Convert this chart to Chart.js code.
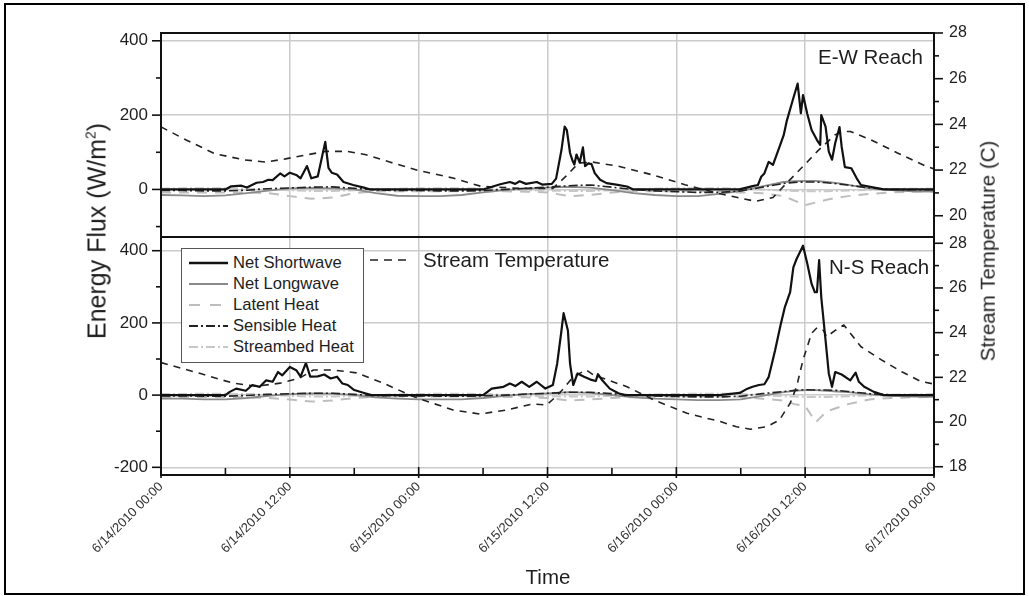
<!DOCTYPE html>
<html><head><meta charset="utf-8">
<script src="https://cdn.jsdelivr.net/npm/chart.js@4.4.1/dist/chart.umd.min.js"></script>
<style>
html,body{margin:0;padding:0;background:#fff;}
#wrap{position:relative;width:1029px;height:596px;overflow:hidden;font-family:"Liberation Sans",Arial,sans-serif;color:#1e1e1e;}
#frame{position:absolute;left:4px;top:3px;width:1021px;height:592px;border:2px solid #000;box-sizing:border-box;}
canvas{position:absolute;left:0;top:0;}
.t{position:absolute;white-space:nowrap;line-height:1;}
.rot{transform:translate(-50%,-50%) rotate(-90deg);}
.ctr{transform:translate(-50%,-50%);}
svg{position:absolute;left:0;top:0;}
</style></head>
<body><div id="wrap">
<div id="frame"></div>
<canvas id="cTop" width="1029" height="596"></canvas>
<canvas id="cBot" width="1029" height="596"></canvas>
<svg width="1029" height="596">
  <rect x="181.5" y="248.5" width="182" height="114" fill="#fff" stroke="#555" stroke-width="1"/>
  <line x1="189" y1="263" x2="228" y2="263" stroke="#111" stroke-width="2.5"/>
  <line x1="189" y1="284" x2="228" y2="284" stroke="#8a8a8a" stroke-width="1.8"/>
  <line x1="189" y1="305" x2="228" y2="305" stroke="#bdbdbd" stroke-width="2" stroke-dasharray="11,10"/>
  <line x1="189" y1="326" x2="228" y2="326" stroke="#222" stroke-width="1.8" stroke-dasharray="9,3,2,3"/>
  <line x1="189" y1="347" x2="228" y2="347" stroke="#c8c8c8" stroke-width="2" stroke-dasharray="9,3,2,3"/>
  <line x1="370" y1="260" x2="410" y2="260" stroke="#222" stroke-width="1.6" stroke-dasharray="8,6"/>
</svg>
<div class="t" style="left:233px;top:255px;font-size:16.6px">Net Shortwave</div>
<div class="t" style="left:233px;top:276px;font-size:16.6px">Net Longwave</div>
<div class="t" style="left:233px;top:297px;font-size:16.6px">Latent Heat</div>
<div class="t" style="left:233px;top:318px;font-size:16.6px">Sensible Heat</div>
<div class="t" style="left:233px;top:339px;font-size:16.6px">Streambed Heat</div>
<div class="t" style="left:423px;top:250px;font-size:20.5px">Stream Temperature</div>
<div class="t" style="left:818px;top:46.5px;font-size:20.5px">E-W Reach</div>
<div class="t" style="left:829px;top:256.5px;font-size:20.5px">N-S Reach</div>
<div class="t rot" style="left:97px;top:231px;font-size:25px">Energy Flux (W/m<sup style="font-size:14px;vertical-align:10px;line-height:0">2</sup>)</div>
<div class="t rot" style="left:988px;top:251px;font-size:20.5px">Stream Temperature (C)</div>
<div class="t ctr" style="left:548px;top:577px;font-size:20.5px">Time</div>
</div>
<script>
// ---------- axis ticks ----------
const xTickHours = [0, 12, 24, 36, 48, 60, 72];
const xTickLabels = ["6/14/2010 00:00", "6/14/2010 12:00", "6/15/2010 00:00", "6/15/2010 12:00", "6/16/2010 00:00", "6/16/2010 12:00", "6/17/2010 00:00"];
const xMinorHours = [6, 18, 30, 42, 54, 66];
const ewFluxTicks = [400, 200, 0];
const ewFluxMinor = [300, 100, -100];
const ewTempTicks = [20, 22, 24, 26, 28];
const ewTempMinor = [21, 23, 25, 27];
const nsFluxTicks = [400, 200, 0, -200];
const nsFluxMinor = [300, 100, -100];
const nsTempTicks = [18, 20, 22, 24, 26, 28];
const nsTempMinor = [19, 21, 23, 25, 27];

// ---------- E-W reach ----------
const ewSwHours = [0,6,6.5,7.5,8,8.9,9.5,10,10.4,11.1,11.5,12,12.6,13,13.6,14,14.6,15.3,15.6,15.9,16.4,17,17.9,18.9,19.5,
  30,31.6,32.5,33,33.4,34,35,35.5,36.4,36.8,37.3,37.6,37.8,38.1,38.3,38.5,38.7,39,39.3,39.5,39.8,40.1,40.4,40.9,41.5,42.4,43.4,44,
  53.9,55.1,55.6,55.9,56.2,56.6,57,57.5,58,58.3,58.8,59.3,59.6,59.8,60.2,60.6,61.1,61.4,61.5,61.9,62.2,62.5,62.8,63.2,63.4,63.7,64.3,64.8,65.2,66.3,67.3,72];
const ewSwValues = [0,0,8,10,5,18,20,26,25,43,35,45,39,30,63,30,35,128,58,45,40,20,12,5,0,
  0,14,20,15,22,15,20,13,15,29,106,169,160,98,80,67,94,72,113,63,70,68,44,26,17,13,8,0,
  0,9,12,34,43,74,66,106,146,186,236,285,205,254,203,160,133,120,200,169,102,80,125,168,115,60,57,30,12,6,0,0];
const ewTempHours = [0,2.3,5,7.7,9.8,11.6,13.6,15.4,17.3,19.1,21.3,24,27.2,29.8,33.4,36.5,37.7,38.9,40.2,42.6,45.7,48.8,51.9,53.7,55.4,57,58.3,59.8,61.2,62.8,63.6,64.2,66.1,68.6,71.3,72];
const ewTempValues = [23.89,23.33,22.72,22.45,22.35,22.49,22.67,22.82,22.82,22.67,22.35,21.98,21.65,21.29,21.2,21.2,21.72,22.31,22.35,22.17,21.8,21.36,20.98,20.8,20.63,20.8,21.44,22.16,22.85,23.55,23.69,23.69,23.33,22.75,22.16,22.05];

const fluxHours = [0,2,4,6,8,10,12,14,16,18,20,22,24,26,28,30,32,34,36,38,40,42,44,46,48,50,52,54,56,58,59,60,61,62,63,64,66,68,70,72];
const ewLongwave = [-15,-16,-18,-16,-10,-3,3,4,3,0,-10,-17,-18,-18,-15,-8,-2,2,5,7,5,-2,-10,-15,-18,-18,-12,-4,8,20,22,23,23,20,17,12,3,-2,-5,-6];
const ewLatent = [-8,-8,-8,-8,-8,-10,-18,-25,-22,-10,-5,-5,-5,-5,-5,-5,-5,-6,-8,-18,-15,-8,-5,-5,-5,-5,-5,-8,-10,-18,-30,-42,-35,-28,-22,-18,-12,-8,-6,-5];
const ewSensible = [-3,-3,-4,-4,-2,2,4,6,7,3,-1,-3,-3,-4,-4,-3,0,3,6,10,12,6,0,-4,-6,-8,-8,-4,6,16,19,20,20,18,15,12,4,0,-1,-1];
const ewStreambed = [2,3,3,3,2,0,-2,-4,-4,-2,0,2,3,3,3,2,0,-2,-3,-4,-4,-2,0,2,3,3,3,2,0,-3,-4,-5,-5,-5,-4,-3,-1,1,2,2];

// ---------- N-S reach ----------
const nsSwHours = [0,6,6.4,7,7.9,8.5,9.2,9.8,10.4,10.9,11.3,12,12.6,13,13.5,13.9,14.6,15.2,15.8,16.4,16.9,17.4,18,19,19.6,
  30,30.8,31.9,32.5,33,33.6,34.3,35,35.8,36.5,36.9,37.3,37.5,37.9,38.1,38.4,38.8,39.4,40,40.5,40.7,41.1,41.8,42.6,43.2,
  52,53.9,54.5,55.1,55.7,56.2,56.6,56.9,57.2,57.7,58.1,58.6,58.9,59.2,59.8,60.2,60.6,60.9,61.1,61.3,61.5,61.9,62.2,62.5,62.8,63.4,64.2,64.7,65,65.5,66.4,67.3,72];
const nsSwValues = [0,0,9,18,12,28,23,41,37,64,55,78,69,51,89,51,52,57,46,51,32,28,14,5,0,
  0,18,23,32,25,37,23,37,18,28,87,179,227,179,87,28,60,51,43,39,58,41,18,5,0,
  0,6,16,23,28,30,50,87,124,193,243,285,354,377,414,364,308,285,285,374,271,152,60,23,64,57,41,62,37,23,9,0,0];
const nsTempHours = [0,3.6,6.7,8.9,11.1,12.9,14.2,16,18.2,20.7,22.8,24,27.2,29.7,32.2,34.6,35.9,36.8,37.5,38.4,39.6,40.3,41.5,43.4,45.9,49,52.1,53.6,54.9,56.4,57.6,58.6,59.2,59.8,60.6,61.1,61.7,62,62.8,63.6,65.2,67.1,69,70.8,72];
const nsTempValues = [22.66,22.18,21.74,21.6,21.74,21.96,22.33,22.33,22.2,21.74,21.29,21.05,20.54,20.36,20.54,20.81,20.76,21.14,21.5,22.03,22.33,22.1,21.9,21.58,20.99,20.39,20.02,19.79,19.68,19.79,20.09,20.84,21.58,22.78,23.97,24.22,24.1,23.82,24.1,24.34,23.37,22.78,22.25,21.81,21.7];
const nsLongwave = [-10,-10,-12,-12,-8,-2,3,5,4,0,-6,-10,-12,-12,-12,-8,-2,3,5,8,6,0,-6,-10,-12,-14,-14,-12,-2,8,12,14,14,12,10,8,2,-2,-4,-5];
const nsLatent = [-5,-5,-5,-5,-6,-8,-12,-18,-15,-8,-5,-4,-4,-4,-4,-4,-5,-6,-8,-15,-12,-8,-5,-4,-4,-4,-4,-5,-10,-15,-25,-30,-75,-45,-35,-25,-12,-8,-6,-5];
const nsSensible = [-2,-2,-3,-3,-1,2,4,5,5,2,-1,-2,-2,-3,-3,-2,0,3,5,8,8,4,0,-2,-4,-5,-5,-3,4,10,13,15,14,14,13,10,4,1,0,0];
const nsStreambed = [3,3,4,4,3,1,-2,-4,-4,-2,0,2,3,4,4,3,1,-2,-3,-4,-4,-2,0,2,3,4,4,3,0,-3,-4,-5,-5,-5,-4,-3,-1,1,2,3];

// ---------- helpers ----------
Chart.defaults.font.family = "'Liberation Sans', Arial, sans-serif";
Chart.defaults.color = '#1e1e1e';
const GRID = '#cbcbcb';

function pts(hours, values) { return hours.map((h, i) => ({ x: h, y: values[i] })); }

function makeDatasets(sw, swH, temp, tempH, lw, lat, sen, bed) {
  return [
    { label: 'Net Shortwave', data: pts(swH, sw), borderColor: '#111', borderWidth: 2.2, yAxisID: 'yL' },
    { label: 'Stream Temperature', data: pts(tempH, temp), borderColor: '#222', borderWidth: 1.6, borderDash: [7, 6], yAxisID: 'yR' },
    { label: 'Sensible Heat', data: pts(fluxHours, sen), borderColor: '#222', borderWidth: 1.6, borderDash: [9, 3, 2, 3], yAxisID: 'yL' },
    { label: 'Net Longwave', data: pts(fluxHours, lw), borderColor: '#8a8a8a', borderWidth: 1.8, yAxisID: 'yL' },
    { label: 'Streambed Heat', data: pts(fluxHours, bed), borderColor: '#c8c8c8', borderWidth: 2, borderDash: [9, 3, 2, 3], yAxisID: 'yL' },
    { label: 'Latent Heat', data: pts(fluxHours, lat), borderColor: '#bdbdbd', borderWidth: 2, borderDash: [10, 8], yAxisID: 'yL' }
  ];
}

function setTicks(list) { return s => { s.ticks = list.map(v => ({ value: v })); }; }

function panelPlugin(spec) {
  return {
    id: 'panel_' + spec.name,
    afterDraw(chart) {
      const ctx = chart.ctx, a = chart.chartArea;
      const yl = chart.scales.yL, yr = chart.scales.yR, xs = chart.scales.x;
      ctx.save();
      ctx.strokeStyle = '#111';
      ctx.lineWidth = 1.6;
      const seg = (x1, y1, x2, y2) => { ctx.beginPath(); ctx.moveTo(x1, y1); ctx.lineTo(x2, y2); ctx.stroke(); };
      spec.lMajor.forEach(v => { const y = yl.getPixelForValue(v); seg(a.left - 9, y, a.left, y); });
      spec.lMinor.forEach(v => { const y = yl.getPixelForValue(v); seg(a.left - 5, y, a.left, y); });
      spec.rMajor.forEach(v => { const y = yr.getPixelForValue(v); seg(a.right, y, a.right + 9, y); });
      spec.rMinor.forEach(v => { const y = yr.getPixelForValue(v); seg(a.right, y, a.right + 5, y); });
      if (spec.xTicks) {
        xTickHours.forEach(v => { const x = xs.getPixelForValue(v); seg(x, a.bottom - 8, x, a.bottom + 3); });
        xMinorHours.forEach(v => { const x = xs.getPixelForValue(v); seg(x, a.bottom - 7, x, a.bottom); });
      }
      ctx.lineWidth = 2;
      ctx.strokeRect(a.left, a.top, a.right - a.left, a.bottom - a.top);
      ctx.restore();
    }
  };
}

function makeChart(id, cfg) {
  const isBottom = cfg.bottom;
  return new Chart(document.getElementById(id), {
    type: 'line',
    data: { datasets: cfg.datasets },
    options: {
      responsive: false, animation: false, devicePixelRatio: 1,
      layout: { padding: { left: 0, right: 0, top: cfg.padTop, bottom: cfg.padBottom } },
      elements: { point: { radius: 0 }, line: { tension: 0, borderJoinStyle: 'round' } },
      plugins: { legend: { display: false }, tooltip: { enabled: false } },
      scales: {
        x: {
          type: 'linear', min: 0, max: 72,
          afterBuildTicks: setTicks(xTickHours),
          afterFit: s => { s.height = cfg.xHeight; },
          grid: { color: GRID, lineWidth: 1.5, drawTicks: false },
          border: { display: false },
          ticks: isBottom ? {
            display: true, autoSkip: false, minRotation: 45, maxRotation: 45, padding: 4,
            font: { size: 13 }, color: '#333',
            callback: (v, i) => xTickLabels[i]
          } : { display: false }
        },
        yL: {
          type: 'linear', position: 'left', min: cfg.lMin, max: cfg.lMax,
          afterBuildTicks: setTicks(cfg.lTicks),
          afterFit: s => { s.width = 161; },
          grid: { color: GRID, lineWidth: 1.5, drawTicks: false },
          border: { display: false },
          ticks: { padding: 13, font: { size: 17 }, callback: v => String(v) }
        },
        yR: {
          type: 'linear', position: 'right', min: cfg.rMin, max: cfg.rMax,
          afterBuildTicks: setTicks(cfg.rTicks),
          afterFit: s => { s.width = 95; },
          grid: { drawOnChartArea: false, drawTicks: false },
          border: { display: false },
          ticks: { padding: 15, font: { size: 16 }, callback: v => String(v) }
        }
      }
    },
    plugins: [panelPlugin({ name: id, lMajor: cfg.lTicks, lMinor: cfg.lMinor, rMajor: cfg.rTicks, rMinor: cfg.rMinor, xTicks: isBottom })]
  });
}

makeChart('cTop', {
  bottom: false, padTop: 33, padBottom: 359, xHeight: 0,
  lMin: -128, lMax: 421, rMin: 19.07, rMax: 28,
  lTicks: ewFluxTicks, lMinor: ewFluxMinor, rTicks: ewTempTicks, rMinor: ewTempMinor,
  datasets: makeDatasets(ewSwValues, ewSwHours, ewTempValues, ewTempHours, ewLongwave, ewLatent, ewSensible, ewStreambed)
});

makeChart('cBot', {
  bottom: true, padTop: 237, padBottom: 0, xHeight: 121,
  lMin: -221.3, lMax: 438, rMin: 17.63, rMax: 28.28,
  lTicks: nsFluxTicks, lMinor: nsFluxMinor, rTicks: nsTempTicks, rMinor: nsTempMinor,
  datasets: makeDatasets(nsSwValues, nsSwHours, nsTempValues, nsTempHours, nsLongwave, nsLatent, nsSensible, nsStreambed)
});
</script>
</body></html>
